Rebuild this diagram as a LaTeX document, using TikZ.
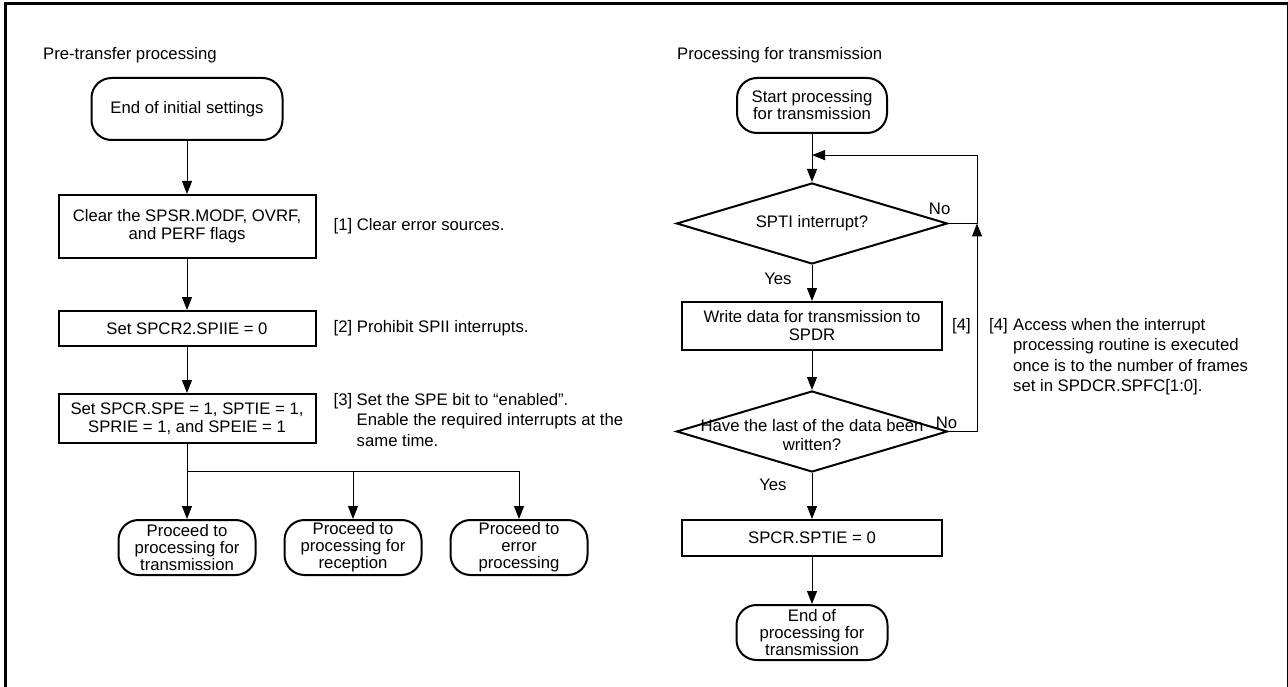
\documentclass[tikz,border=0pt]{standalone}
\usepackage{fontspec}
\setmainfont{Liberation Sans}
\usetikzlibrary{positioning,arrows.meta,calc,shapes.geometric}
\tikzset{
  term/.style={draw, line width=2pt, rounded corners=20pt, align=center, inner sep=0pt, minimum height=55pt, font=\fontsize{16.7}{17}\selectfont},
  proc/.style={draw, line width=2pt, align=center, inner sep=0pt, minimum width=257pt, font=\fontsize{16.7}{18}\selectfont},
  dec/.style={diamond, aspect=3.35, draw, line width=2pt, inner sep=0pt, minimum width=271pt, minimum height=81pt, font=\fontsize{16.7}{19}\selectfont},
  note/.style={align=left, inner sep=0pt, font=\fontsize{16.7}{20.5}\selectfont},
  lbl/.style={inner sep=0pt, font=\fontsize{16.7}{18}\selectfont},
  fl/.style={-{Triangle[length=13pt,width=10pt]}, line width=1pt},
}

\begin{document}
\begin{tikzpicture}
\useasboundingbox (0,0) rectangle (1288pt,-687pt);
\draw[line width=3pt] (5.5pt,-3.5pt) rectangle (1288.5pt,-700pt);
% pre-transfer processing
\node[lbl, anchor=west] (ttl1) at (43pt,-55pt) {Pre-transfer processing};
\node[term, minimum width=191pt, minimum height=62pt] (init) at (187pt,-109pt) {End of initial settings};
\node[proc, minimum height=63pt, below=53pt of init] (clr) {Clear the SPSR.MODF, OVRF,\\and PERF flags};
\node[proc, minimum height=35pt, below=51pt of clr] (spii) {Set SPCR2.SPIIE = 0};
\node[proc, minimum height=49pt, below=46pt of spii] (spe) {Set SPCR.SPE = 1, SPTIE = 1,\\SPRIE = 1, and SPEIE = 1};
\node[term, minimum width=137pt, below=75pt of spe] (gotx) {Proceed to\\processing for\\transmission};
\node[term, minimum width=137pt, right=27pt of gotx] (gorx) {Proceed to\\processing for\\reception};
\node[term, minimum width=137pt, right=27pt of gorx] (goerr) {Proceed to\\error\\processing};
\node[note, right=17pt of clr] (n1) {[1] Clear error sources.};
\node[note, right=17pt of spii] (n2) {[2] Prohibit SPII interrupts.};
\node[note, anchor=north west] (n3) at ([xshift=17pt]spe.north east) {\makebox[23pt][l]{[3]}Set the SPE bit to “enabled”.\\\hspace*{23pt}Enable the required interrupts at the\\\hspace*{23pt}same time.};
\coordinate (fork) at ([yshift=-27pt]spe.south);
\draw[fl] (init) -- (clr);
\draw[fl] (clr) -- (spii);
\draw[fl] (spii) -- (spe);
\draw[fl] (spe) -- (gotx);
\draw[fl] (fork) -| (gorx);
\draw[fl] (fork) -| (goerr);
% processing for transmission
\node[lbl, anchor=west] (ttl2) at (677pt,-55pt) {Processing for transmission};
\node[term, minimum width=150pt] (txbeg) at (812pt,-105.5pt) {Start processing\\for transmission};
\node[dec, below=48pt of txbeg] (spti) {SPTI interrupt?};
\node[proc, minimum width=260pt, minimum height=48pt, below=36pt of spti] (wr) {Write data for transmission to\\SPDR};
\node[dec, below=39pt of wr] (last) {\raisebox{-10pt}[0pt][0pt]{\makebox[0pt]{\begin{tabular}{@{}c@{}}Have the last of the data been\\written?\end{tabular}}}};
\node[proc, minimum width=260pt, minimum height=36pt, below=46pt of last] (sptie) {SPCR.SPTIE = 0};
\node[term, minimum width=151pt, below=47pt of sptie] (txend) {End of\\processing for\\transmission};
\node[lbl, right=9pt of wr] (tag4) {[4]};
\node[note, anchor=north west] (n4) at ([xshift=18pt]tag4.north east) {\makebox[24pt][l]{[4]}Access when the interrupt\\\hspace*{24pt}processing routine is executed\\\hspace*{24pt}once is to the number of frames\\\hspace*{24pt}set in SPDCR.SPFC[1:0].};
\node[lbl, anchor=south east] (no1) at ([xshift=2pt,yshift=9pt]spti.east) {No};
\node[lbl, anchor=south] (no2) at ([xshift=-2pt,yshift=3pt]last.east) {No};
\coordinate (loop) at ($(txbeg.south)!0.44!(spti.north)$);
\coordinate (rt) at ($(wr.east |- loop)+(34pt,0)$);
\draw[fl] (txbeg) -- (spti);
\draw[fl] (spti.east) -| (rt) -- (loop);
\draw[fl] (last.east) -| (spti.east -| rt);
\draw[fl] (spti) -- node[lbl, left=20pt, pos=.39] (yes1) {Yes} (wr);
\draw[fl] (wr) -- (last);
\draw[fl] (last) -- node[lbl, left=25pt, pos=.26] (yes2) {Yes} (sptie);
\draw[fl] (sptie) -- (txend);
\end{tikzpicture}
\end{document}
